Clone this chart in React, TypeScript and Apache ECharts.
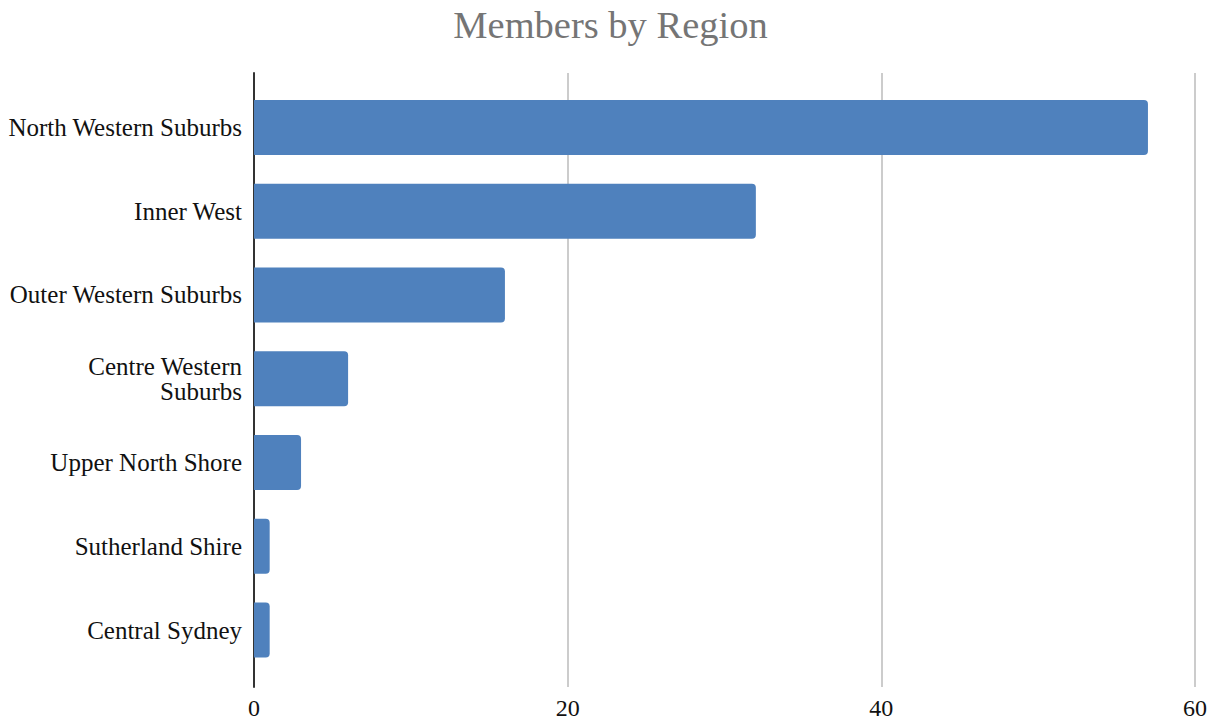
import React, { useEffect, useRef } from "react";
import * as echarts from "echarts";

const title = "Members by Region";
const categories = [
  "North Western Suburbs",
  "Inner West",
  "Outer Western Suburbs",
  "Centre Western\nSuburbs",
  "Upper North Shore",
  "Sutherland Shire",
  "Central Sydney",
];
const members = [57, 32, 16, 6, 3, 1, 1];
const xMin = 0;
const xMax = 60;
const xInterval = 20;

export default function App() {
  const ref = useRef<HTMLDivElement>(null);
  useEffect(() => {
    if (!ref.current) return;
    const chart = echarts.init(ref.current, null, { renderer: "svg" });
    const font = "'Liberation Serif', 'Times New Roman', serif";
    chart.setOption({
      animation: false,
      backgroundColor: "#ffffff",
      title: {
        text: title,
        left: "center",
        top: 0,
        textStyle: { fontFamily: font, fontSize: 38.5, fontWeight: "normal", color: "#757575" },
      },
      grid: [
        { left: 254, right: 26, top: 73, bottom: 38 },
        { left: 254, right: 26, top: 85.5, bottom: 53 },
      ],
      xAxis: [
        {
          gridIndex: 0,
          type: "value",
          min: xMin,
          max: xMax,
          interval: xInterval,
          axisLine: { show: false },
          axisTick: { show: false },
          axisLabel: { fontFamily: font, fontSize: 24, color: "#111", margin: 9 },
          splitLine: {
            show: true,
            lineStyle: { color: ["transparent", "#cccccc", "#cccccc", "#cccccc"], width: 2 },
          },
        },
        {
          gridIndex: 1,
          type: "value",
          min: xMin,
          max: xMax,
          show: false,
          splitLine: { show: false },
        },
      ],
      yAxis: [
        {
          gridIndex: 0,
          type: "category",
          data: [""],
          axisLine: { show: true, lineStyle: { color: "#333", width: 2 } },
          axisTick: { show: false },
          axisLabel: { show: false },
          splitLine: { show: false },
        },
        {
          gridIndex: 1,
          type: "category",
          inverse: true,
          data: categories,
          axisLine: { show: false },
          axisTick: { show: false },
          axisLabel: {
            fontFamily: font,
            fontSize: 25,
            color: "#111",
            margin: 12,
            align: "right",
            lineHeight: 25,
          },
          splitLine: { show: false },
        },
      ],
      series: [
        {
          type: "bar",
          xAxisIndex: 1,
          yAxisIndex: 1,
          data: members,
          barWidth: 55,
          itemStyle: { color: "#4f81bd", borderRadius: [0, 4, 4, 0] },
        },
      ],
    });
    return () => chart.dispose();
  }, []);
  return (
    <div
      ref={ref}
      style={{ position: "fixed", left: 0, top: 0, width: 1221, height: 725 }}
    />
  );
}
